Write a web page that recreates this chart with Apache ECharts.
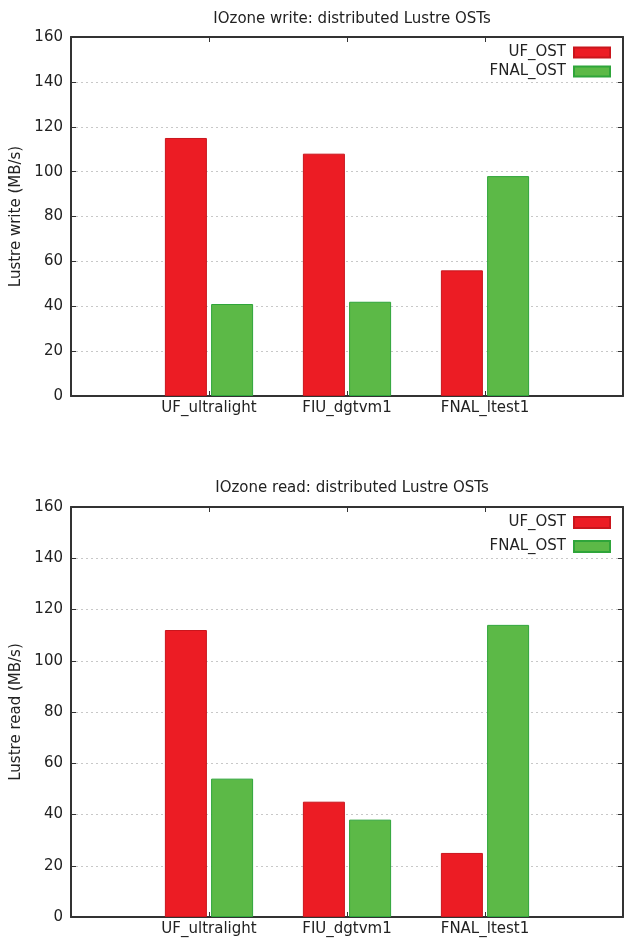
<!DOCTYPE html>
<html>
<head>
<meta charset="utf-8">
<script src="https://cdn.jsdelivr.net/npm/echarts@6/dist/echarts.min.js"></script>
<style>
html,body{margin:0;padding:0;background:#fff;}
#chart{width:626px;height:938px;}
</style>
</head>
<body>
<div id="chart"></div>
<script>
const hosts = ['UF_ultralight', 'FIU_dgtvm1', 'FNAL_ltest1'];
const seriesNames = ['UF_OST', 'FNAL_OST'];
const writeUF = [115, 108, 56];
const writeFNAL = [41, 42, 98];
const readUF = [112, 45, 25];
const readFNAL = [54, 38, 114];
const yTicks = [0, 20, 40, 60, 80, 100, 120, 140, 160];
const titles = ['IOzone write: distributed Lustre OSTs', 'IOzone read: distributed Lustre OSTs'];
const yNames = ['Lustre write (MB/s)', 'Lustre read (MB/s)'];

const FONT = '"DejaVu Sans", "Liberation Sans", Arial, sans-serif';
const FS = 15;
const TXT = '#222';
const RED = '#ec1c24', GREEN = '#5cb947';
const cats = [''].concat(hosts, ['']);
const pad = a => [null].concat(a, [null]);

const grids = [
  {left: 71, right: 2, top: 37, height: 359},
  {left: 71, right: 2, top: 507, height: 410}
];
const lineStyle = {color: '#333', width: 2};
const tick = {inside: true, length: 5, lineStyle: {color: '#333', width: 1}};

const xAxis = [], yAxis = [], series = [];
[0, 1].forEach(g => {
  xAxis.push({type: 'category', gridIndex: g, data: cats, boundaryGap: false, position: 'bottom',
    axisLine: {onZero: false, lineStyle}, axisTick: tick,
    axisLabel: {fontFamily: FONT, fontSize: FS, color: TXT, margin: 5, interval: 0},
    splitLine: {show: false}});
  xAxis.push({type: 'category', gridIndex: g, data: cats, boundaryGap: false, position: 'top',
    axisLine: {onZero: false, lineStyle}, axisTick: tick,
    axisLabel: {show: false}, splitLine: {show: false}});
  yAxis.push({type: 'value', gridIndex: g, min: yTicks[0], max: yTicks[yTicks.length - 1],
    interval: yTicks[1] - yTicks[0], position: 'left',
    name: yNames[g], nameLocation: 'middle', nameGap: 42,
    nameTextStyle: {fontFamily: FONT, fontSize: FS, color: TXT},
    axisLine: {show: true, onZero: false, lineStyle}, axisTick: Object.assign({show: true}, tick),
    axisLabel: {fontFamily: FONT, fontSize: FS, color: TXT, margin: 8},
    splitLine: {show: true, lineStyle: {color: '#c8c8c8', type: [2, 3], width: 1}}});
  yAxis.push({type: 'value', gridIndex: g, min: yTicks[0], max: yTicks[yTicks.length - 1],
    interval: yTicks[1] - yTicks[0], position: 'right',
    axisLine: {show: true, onZero: false, lineStyle}, axisTick: Object.assign({show: true}, tick),
    axisLabel: {show: false}, splitLine: {show: false}});
});

const data = [[writeUF, writeFNAL], [readUF, readFNAL]];
[0, 1].forEach(g => {
  series.push({name: seriesNames[0], type: 'bar', xAxisIndex: g * 2, yAxisIndex: g * 2,
    data: pad(data[g][0]), barWidth: 42, barGap: '10%',
    itemStyle: {color: RED, borderColor: '#c9161d', borderWidth: 1}});
  series.push({name: seriesNames[1], type: 'bar', xAxisIndex: g * 2, yAxisIndex: g * 2,
    data: pad(data[g][1]), barWidth: 42, barGap: '10%',
    itemStyle: {color: GREEN, borderColor: '#2fa53a', borderWidth: 1}});
});

const legendText = {fontFamily: FONT, fontSize: FS, color: TXT, padding: [0, 3, 0, 0]};
const chart = echarts.init(document.getElementById('chart'), null, {renderer: 'canvas'});
chart.setOption({
  backgroundColor: '#fff',
  animation: false,
  title: [
    {text: titles[0], left: 347, top: 7, textAlign: 'center', textStyle: {fontFamily: FONT, fontSize: FS, fontWeight: 'normal', color: TXT}},
    {text: titles[1], left: 347, top: 476, textAlign: 'center', textStyle: {fontFamily: FONT, fontSize: FS, fontWeight: 'normal', color: TXT}}
  ],
  legend: [
    {data: seriesNames, orient: 'vertical', align: 'right', right: 15, top: 45, padding: 0, itemWidth: 36, itemHeight: 10, itemGap: 4,
     icon: 'rect', textStyle: legendText, selectedMode: false},
    {data: seriesNames, orient: 'vertical', align: 'right', right: 15, top: 515, padding: 0, itemWidth: 36, itemHeight: 11, itemGap: 9,
     icon: 'rect', textStyle: legendText, selectedMode: false}
  ],
  grid: grids,
  xAxis, yAxis, series
});
</script>
</body>
</html>
